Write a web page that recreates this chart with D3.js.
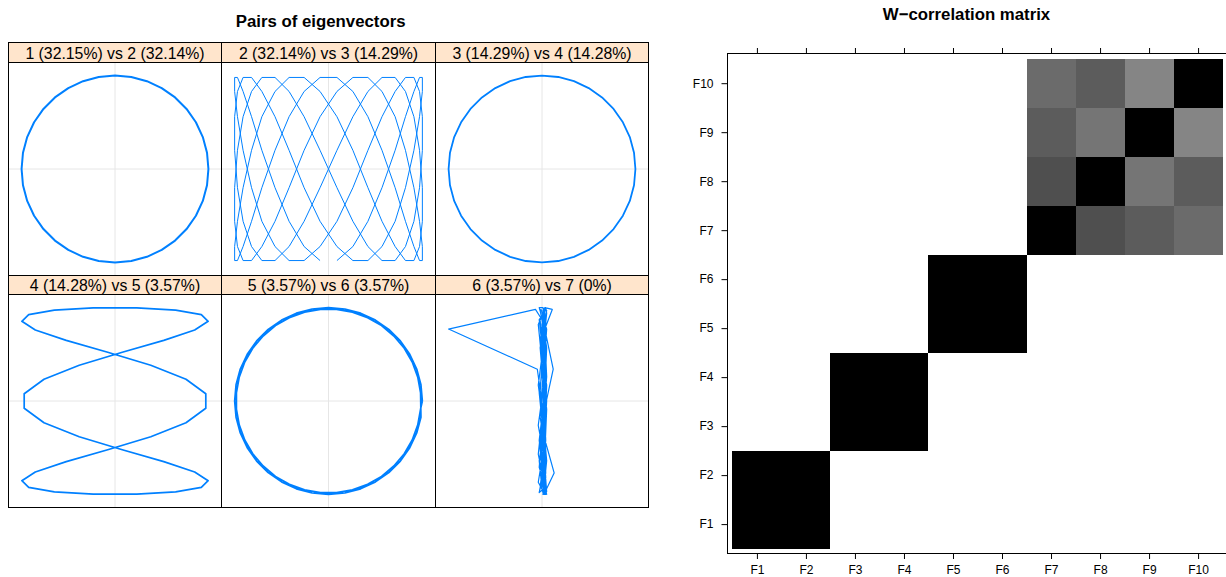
<!DOCTYPE html>
<html><head><meta charset="utf-8">
<script src="https://cdn.jsdelivr.net/npm/d3@7"></script>
<style>body{margin:0;background:#fff}svg{display:block}text{font-family:"Liberation Sans",Arial,Helvetica,sans-serif}</style>
</head><body><svg id="chart" width="1226" height="577"></svg>
<script>
// ================= DATA =================
const leftTitle = "Pairs of eigenvectors";
const rightTitle = "W\u2212correlation matrix";
const pairLabels = ["1 (32.15%) vs 2 (32.14%)", "2 (32.14%) vs 3 (14.29%)", "3 (14.29%) vs 4 (14.28%)",
                    "4 (14.28%) vs 5 (3.57%)", "5 (3.57%) vs 6 (3.57%)", "6 (3.57%) vs 7 (0%)"];

// panel 1: eigenvector 2 (x) vs eigenvector 1 (y)
const panel1X = [1,.985,.94,.866,.766,.643,.5,.342,.174,0,-.174,-.342,-.5,-.643,-.766,-.866,-.94,-.985,-1,-.985,-.94,-.866,-.766,-.643,-.5,-.342,-.174,0,.174,.342,.5,.643,.766,.866,.94,.985,1];
const panel1Y = [0,.174,.342,.5,.643,.766,.866,.94,.985,1,.985,.94,.866,.766,.643,.5,.342,.174,0,-.174,-.342,-.5,-.643,-.766,-.866,-.94,-.985,-1,-.985,-.94,-.866,-.766,-.643,-.5,-.342,-.174,0];

// panel 2: eigenvector 3 (x) vs eigenvector 2 (y)
const panel2X = [
 -.09,-.26,-.42,-.57,-.71,-.82,-.91,-.97,-1,-1,-.97,-.91,-.82,-.71,-.57,-.42,-.26,-.09,.09,.26,.42,.57,.71,.82,.91,.97,1,1,.97,.91,.82,.71,.57,.42,.26,.09,
 -.09,-.26,-.42,-.57,-.71,-.82,-.91,-.97,-1,-1,-.97,-.91,-.82,-.71,-.57,-.42,-.26,-.09,.09,.26,.42,.57,.71,.82,.91,.97,1,1,.97,.91,.82,.71,.57,.42,.26,.09,
 -.09,-.26,-.42,-.57,-.71,-.82,-.91,-.97,-1,-1,-.97,-.91,-.82,-.71,-.57,-.42,-.26,-.09,.09,.26,.42,.57,.71,.82,.91,.97,1,1,.97,.91,.82,.71,.57,.42,.26,.09,
 -.09,-.26,-.42,-.57,-.71,-.82,-.91,-.97,-1,-1,-.97,-.91,-.82,-.71,-.57,-.42,-.26,-.09,.09,.26,.42,.57,.71,.82,.91,.97,1,1,.97,.91,.82,.71,.57,.42,.26,.09];
const panel2Y = [
 -.98,-.83,-.56,-.2,.2,.56,.83,.98,.98,.83,.56,.2,-.2,-.56,-.83,-.98,
 -.98,-.83,-.56,-.2,.2,.56,.83,.98,.98,.83,.56,.2,-.2,-.56,-.83,-.98,
 -.98,-.83,-.56,-.2,.2,.56,.83,.98,.98,.83,.56,.2,-.2,-.56,-.83,-.98,
 -.98,-.83,-.56,-.2,.2,.56,.83,.98,.98,.83,.56,.2,-.2,-.56,-.83,-.98,
 -.98,-.83,-.56,-.2,.2,.56,.83,.98,.98,.83,.56,.2,-.2,-.56,-.83,-.98,
 -.98,-.83,-.56,-.2,.2,.56,.83,.98,.98,.83,.56,.2,-.2,-.56,-.83,-.98,
 -.98,-.83,-.56,-.2,.2,.56,.83,.98,.98,.83,.56,.2,-.2,-.56,-.83,-.98,
 -.98,-.83,-.56,-.2,.2,.56,.83,.98,.98,.83,.56,.2,-.2,-.56,-.83,-.98,
 -.98,-.83,-.56,-.2,.2,.56,.83,.98,.98,.83,.56,.2,-.2,-.56,-.83,-.98];

// panel 3: eigenvector 4 (x) vs eigenvector 3 (y)
const panel3X = [0,.174,.342,.5,.643,.766,.866,.94,.985,1,.985,.94,.866,.766,.643,.5,.342,.174,0,-.174,-.342,-.5,-.643,-.766,-.866,-.94,-.985,-1,-.985,-.94,-.866,-.766,-.643,-.5,-.342,-.174,0];
const panel3Y = [1,.985,.94,.866,.766,.643,.5,.342,.174,0,-.174,-.342,-.5,-.643,-.766,-.866,-.94,-.985,-1,-.985,-.94,-.866,-.766,-.643,-.5,-.342,-.174,0,.174,.342,.5,.643,.766,.866,.94,.985,1];

// panel 4: eigenvector 5 (x) vs eigenvector 4 (y)
const panel4X = [.233,.649,.924,.997,.853,.522,.078,-.383,-.76,-.972,-.972,-.76,-.383,.078,.522,.853,.997,.924,.649,.233,
                 -.233,-.649,-.924,-.997,-.853,-.522,-.078,.383,.76,.972,.972,.76,.383,-.078,-.522,-.853,-.997,-.924,-.649,-.233,.233];
const panel4Y = [.997,.972,.924,.853,.76,.649,.522,.383,.233,.078,-.078,-.233,-.383,-.522,-.649,-.76,-.853,-.924,-.972,-.997,
                 -.997,-.972,-.924,-.853,-.76,-.649,-.522,-.383,-.233,-.078,.078,.233,.383,.522,.649,.76,.853,.924,.972,.997,.997];

// panel 5: eigenvector 6 (x) vs eigenvector 5 (y)
const panel5X = [1,.985,.94,.866,.766,.643,.5,.342,.174,0,-.174,-.342,-.5,-.643,-.766,-.866,-.94,-.985,-1,-.985,-.94,-.866,-.766,-.643,-.5,-.342,-.174,0,.174,.342,.5,.643,.766,.866,.94,.985,
                 .981,.951,.892,.807,.696,.565,.417,.255,.086,-.086,-.255,-.417,-.565,-.696,-.807,-.892,-.951,-.981,-.981,-.951,-.892,-.807,-.696,-.565,-.417,-.255,-.086,.086,.255,.417,.565,.696,.807,.892,.951,.981,1];
const panel5Y = [0,.174,.342,.5,.643,.766,.866,.94,.985,1,.985,.94,.866,.766,.643,.5,.342,.174,0,-.174,-.342,-.5,-.643,-.766,-.866,-.94,-.985,-1,-.985,-.94,-.866,-.766,-.643,-.5,-.342,-.174,
                 .086,.255,.417,.565,.696,.807,.892,.951,.981,.981,.951,.892,.807,.696,.565,.417,.255,.086,-.086,-.255,-.417,-.565,-.696,-.807,-.892,-.951,-.981,-.981,-.951,-.892,-.807,-.696,-.565,-.417,-.255,-.086,0];

// panel 6: eigenvector 7 (x) vs eigenvector 6 (y)
const panel6X = [
 .02,.01,.03,-.01,.02,.04,.01,.03,-.02,.02,.04,0,
 -.07,-1,-.05,.02,.03,0,.03,.13,.01,.04,.02,.03,
 .01,.03,.04,0,.02,-.03,.02,.05,.01,.12,.03,.11,
 .03,0,.02,.04,-.01,.03,.02,.01,.04,.02,-.02,.03,
 .01,.04,.02,.03,0,.02,.05,.03,.01,.04,0,.02,
 .03,.01,-.02,.02,.04,.01,.03,-.01,.02,.03,.04,.01,
 -.03,.02,.04,.01,-.04,.03,.05,0,.02,-.03,.04,.02,
 .04,-.02,.01,.05,.02,-.04,.03,.04,-.01,.05,.01,-.03,
 0,.05,.03,-.03,.01,.04,-.02,.03,.05,0,-.04,.04,
 .05,.02,-.04,.03,.04,.01,0,-.03,.04,.02,.05,-.01,
 -.02,.03,.05,.01,-.03,.05,.02,.04,-.04,.03,.01,.05,
 .03,0,.04,-.02,.05,.02,-.03,.01,.03,.05,-.02,.02];
const panel6Y = [
 1,.87,.5,0,-.5,-.87,-1,-.87,-.5,0,.5,.87,
 .98,.77,.34,-.17,-.64,-.94,-.98,-.77,-.34,.17,.64,.94,
 .94,.64,.17,-.34,-.77,-.98,-.94,-.64,-.17,.34,.77,.98,
 1,.82,.42,-.09,-.57,-.91,-1,-.82,-.42,.09,.57,.91,
 .97,.71,.26,-.26,-.71,-.97,-.97,-.71,-.26,.26,.71,.97,
 .91,.57,.09,-.42,-.82,-1,-.91,-.57,-.09,.42,.82,1,
 1,.82,.42,-.09,-.57,-.91,-1,-.82,-.42,.09,.57,.91,
 1,.87,.5,0,-.5,-.87,-1,-.87,-.5,0,.5,.87,
 .91,.57,.09,-.42,-.82,-1,-.91,-.57,-.09,.42,.82,1,
 .94,.64,.17,-.34,-.77,-.98,-.94,-.64,-.17,.34,.77,.98,
 .97,.71,.26,-.26,-.71,-.97,-.97,-.71,-.26,.26,.71,.97,
 .98,.77,.34,-.17,-.64,-.94,-.98,-.77,-.34,.17,.64,.94];

// W-correlation matrix
const wcorLabels = ["F1","F2","F3","F4","F5","F6","F7","F8","F9","F10"];
const wcorValues = [
 [1,1,0,0,0,0,0,0,0,0],
 [1,1,0,0,0,0,0,0,0,0],
 [0,0,1,1,0,0,0,0,0,0],
 [0,0,1,1,0,0,0,0,0,0],
 [0,0,0,0,1,1,0,0,0,0],
 [0,0,0,0,1,1,0,0,0,0],
 [0,0,0,0,0,0,1,.69,.64,.58],
 [0,0,0,0,0,0,.69,1,.54,.64],
 [0,0,0,0,0,0,.64,.54,1,.48],
 [0,0,0,0,0,0,.58,.64,.48,1]];

// ================= DRAW =================
const svg = d3.select("#chart");
const blue = "#0080ff";
const panelSeries = [[panel1X,panel1Y],[panel2X,panel2Y],[panel3X,panel3Y],[panel4X,panel4Y],[panel5X,panel5Y],[panel6X,panel6Y]];
const strokeWidths = [2, 1, 1.8, 1.7, 1.7, 1.2];

const colEdges = [8.5, 221.5, 435.5, 648.5];
const stripTops = [42.5, 275.5];
const panelTops = [62.5, 294.5];
const panelBottoms = [275.5, 507.5];

svg.append("text").attr("x", 320.7).attr("y", 26.7).attr("text-anchor","middle")
  .attr("font-size", 16.8).attr("font-weight","bold").text(leftTitle);

const defs = svg.append("defs");
panelSeries.forEach((ser, i) => {
  const c = i % 3, r = Math.floor(i / 3);
  const x0 = colEdges[c], x1 = colEdges[c+1];
  const y0 = panelTops[r], y1 = panelBottoms[r];
  const xs = d3.scaleLinear().domain([-1.14, 1.14]).range([x0, x1]);
  const ys = d3.scaleLinear().domain([-1.14, 1.14]).range([y1, y0]);
  const g = svg.append("g");
  g.append("rect").attr("x", x0).attr("y", stripTops[r]).attr("width", x1-x0).attr("height", y0-stripTops[r])
    .attr("fill", "#ffe5cc").attr("stroke", "#000").attr("stroke-width", 1);
  g.append("text").attr("x", (x0+x1)/2).attr("y", (stripTops[r]+y0)/2 + 6.2).attr("text-anchor","middle")
    .attr("font-size", 15.8).attr("fill","#000").text(pairLabels[i]);
  g.append("line").attr("x1", xs(0)).attr("x2", xs(0)).attr("y1", y0).attr("y2", y1).attr("stroke","#e6e6e6").attr("stroke-width",1);
  g.append("line").attr("x1", x0).attr("x2", x1).attr("y1", ys(0)).attr("y2", ys(0)).attr("stroke","#e6e6e6").attr("stroke-width",1);
  defs.append("clipPath").attr("id","clip"+i).append("rect").attr("x",x0).attr("y",y0).attr("width",x1-x0).attr("height",y1-y0);
  const pts = d3.zip(ser[0], ser[1]);
  const line = d3.line().x(d => xs(d[0])).y(d => ys(d[1]));
  g.append("path").attr("d", line(pts)).attr("fill","none").attr("stroke", blue)
    .attr("stroke-width", strokeWidths[i]).attr("stroke-linejoin","round").attr("clip-path","url(#clip"+i+")");
  g.append("rect").attr("x", x0).attr("y", y0).attr("width", x1-x0).attr("height", y1-y0)
    .attr("fill","none").attr("stroke","#000").attr("stroke-width",1);
});

// ---- W-correlation matrix ----
svg.append("text").attr("x", 966.5).attr("y", 19.5).attr("text-anchor","middle")
  .attr("font-size", 16.8).attr("font-weight","bold").text(rightTitle);

const n = wcorLabels.length;
const xw = d3.scaleLinear().domain([0.4, n + 0.6]).range([727.5, 1227.5]);
const yw = d3.scaleLinear().domain([0.4, n + 0.6]).range([553.5, 53.8]);
const grey = d3.scaleLinear().domain([0, 1]).range(["#ffffff", "#000000"]);

const cells = [];
wcorValues.forEach((row, i) => row.forEach((v, j) => cells.push({i: i+1, j: j+1, v})));
svg.append("g").selectAll("rect").data(cells).join("rect")
  .attr("x", d => xw(d.j - 0.5)).attr("width", d => xw(d.j + 0.5) - xw(d.j - 0.5))
  .attr("y", d => yw(d.i + 0.5)).attr("height", d => yw(d.i - 0.5) - yw(d.i + 0.5))
  .attr("fill", d => grey(d.v)).attr("shape-rendering","crispEdges");

svg.append("rect").attr("x", 727.5).attr("y", 53.5).attr("width", 500).attr("height", 500)
  .attr("fill","none").attr("stroke","#000").attr("stroke-width",1);

const ticks = d3.range(1, n + 1);
const fmt = d => wcorLabels[d - 1];
function styleAxis(g) {
  g.select(".domain").remove();
  g.selectAll(".tick line").attr("stroke","#000");
  g.selectAll(".tick text").attr("fill","#000").attr("font-size", 12).attr("font-family", '"Liberation Sans",Arial,sans-serif');
}
svg.append("g").attr("transform","translate(0,553.5)")
  .call(d3.axisBottom(xw).tickValues(ticks).tickFormat(fmt).tickSize(5.5).tickPadding(6.5)).call(styleAxis);
svg.append("g").attr("transform","translate(0,53.5)")
  .call(d3.axisTop(xw).tickValues(ticks).tickFormat("").tickSize(5.5)).call(styleAxis);
svg.append("g").attr("transform","translate(727.5,0)")
  .call(d3.axisLeft(yw).tickValues(ticks).tickFormat(fmt).tickSize(6).tickPadding(8)).call(styleAxis);
</script>
</body></html>
